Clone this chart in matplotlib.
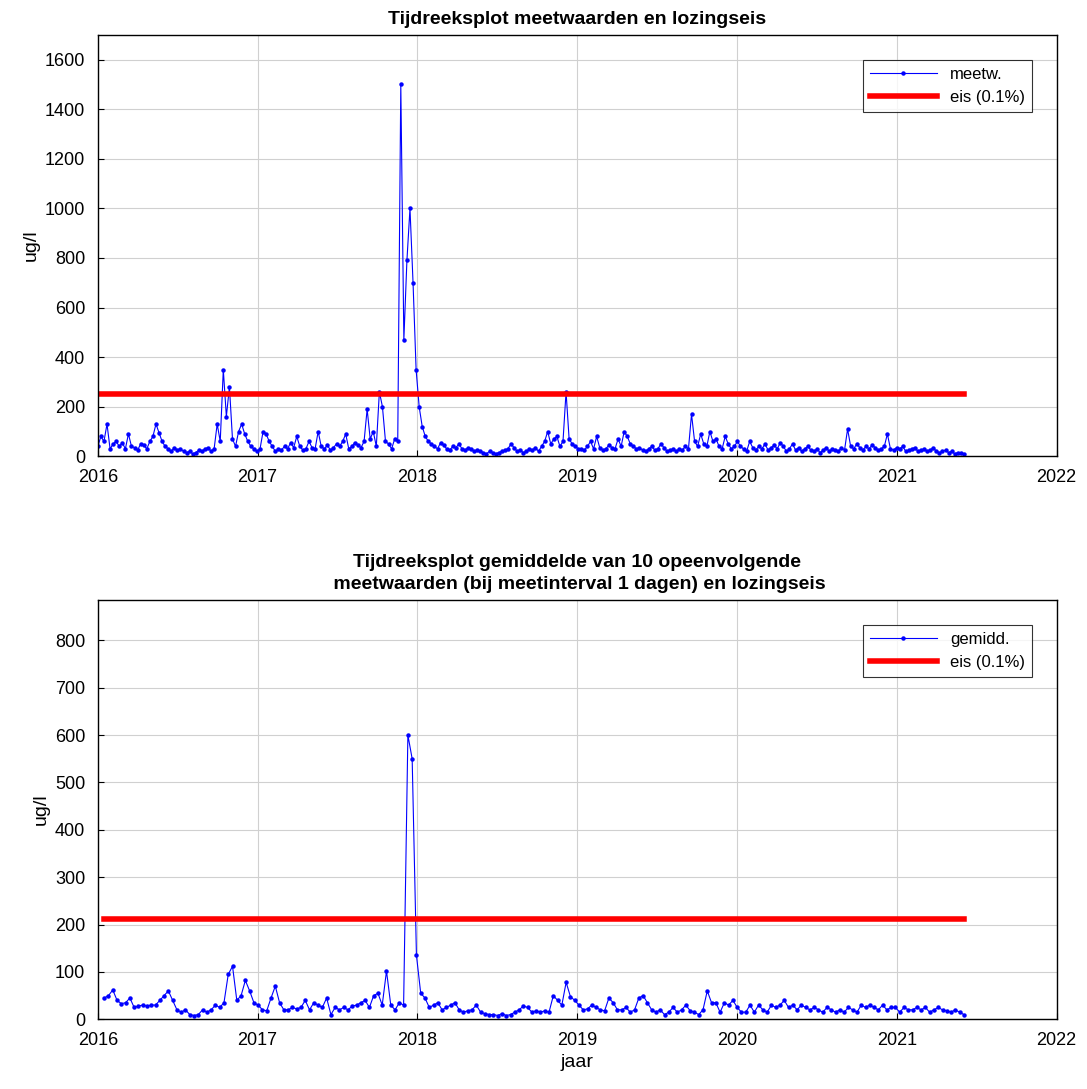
import numpy as np
import matplotlib
matplotlib.use('Agg')
import matplotlib.pyplot as plt

plt.rcParams['font.family'] = ['Liberation Sans', 'DejaVu Sans']

# weekly readings of the daily measurements (ug/l)
meetw = [40, 80, 60, 130, 30, 50, 60, 40, 55, 30, 90, 40, 35, 25, 50, 45, 30, 60, 80, 130, 95, 60, 40, 30, 20, 35, 25, 30, 20, 15, 20, 10,
         15, 25, 20, 30, 35, 20, 30, 130, 60, 350, 160, 280, 70, 40, 100, 130, 90, 60, 40, 30, 20,
         30, 100, 90, 60, 40, 20, 30, 25, 40, 30, 55, 35, 80, 40, 25, 30, 60, 35, 30, 100, 40, 30, 45, 25, 35, 50, 40, 60, 90, 30, 40, 55, 45, 35, 60, 190,
         70, 100, 40, 260, 200, 60, 50, 30, 70, 60,
         1500, 470, 790, 1000, 700, 350, 200,
         120, 80, 60, 50, 40, 30, 55, 45, 30, 25, 40, 35, 50, 30, 25, 35, 30, 20, 25, 20, 15, 10, 20, 15, 10, 15, 20, 25, 30, 50, 35, 20, 25, 15, 20, 30, 25, 35, 20, 40, 60, 100, 50, 70, 80, 40, 60,
         260, 70, 50, 40, 30,
         30, 25, 40, 60, 30, 80, 35, 25, 30, 45, 35, 30, 70, 40, 100, 80, 50, 40, 30, 35, 25, 20, 30, 40, 25, 30, 50, 35, 20, 25, 30, 20, 30, 25, 40, 30,
         170, 60, 40, 90, 50, 40, 100, 60, 70, 40, 30, 80, 50, 30, 40, 60,
         40, 30, 20, 60, 35, 25, 40, 30, 50, 25, 35, 45, 30, 55, 40, 20, 30, 50, 25, 35, 20, 30, 40, 25, 20, 30, 15, 25, 35, 20, 30, 25, 20, 35, 25, 110, 40, 30, 50, 35, 25, 40, 30, 45, 35, 25, 30, 40, 90, 30, 25, 35,
         30, 40, 20, 25, 30, 35, 20, 25, 30, 20, 25, 35, 20, 15, 20, 25, 15, 20, 10, 15, 12, 10]

# means of 10 consecutive measurements
gemidd = [45, 50, 62, 40, 33, 35, 45, 25, 28, 30, 28, 30, 30, 40, 50, 60, 40, 20, 15, 20, 10, 8, 10, 20, 15, 20, 30, 25, 35, 95, 112, 40, 50, 82, 60, 35, 30,
          20, 18, 45, 70, 35, 20, 20, 25, 22, 25, 40, 20, 35, 30, 25, 45, 10, 25, 20, 25, 20, 28, 30, 35, 40, 25, 50, 55, 30, 102, 30, 20, 35, 30, 600, 550, 135,
          55, 45, 25, 30, 35, 20, 25, 30, 35, 20, 15, 18, 20, 30, 15, 12, 10, 10, 8, 12, 8, 10, 15, 20, 28, 25, 15, 18, 15, 18, 15, 50, 40, 30, 78, 48, 40,
          30, 20, 22, 30, 25, 20, 18, 45, 35, 20, 20, 25, 15, 20, 45, 50, 35, 20, 15, 20, 10, 15, 25, 15, 20, 30, 18, 15, 10, 20, 60, 35, 35, 15, 35, 30, 40,
          25, 15, 15, 30, 15, 30, 20, 15, 30, 25, 30, 40, 25, 30, 20, 30, 25, 20, 25, 20, 15, 25, 20, 15, 20, 15, 25, 20, 15, 30, 25, 30, 25, 20, 30, 20, 25,
          25, 15, 25, 20, 20, 25, 20, 25, 15, 20, 25, 20, 18, 15, 20, 15, 10]

eis_top = 250
eis_bot = 212
years = [2016, 2017, 2018, 2019, 2020, 2021, 2022]

x_top = np.linspace(2016.0, 2021.42, len(meetw))
x_bot = np.linspace(2016.04, 2021.42, len(gemidd))

fig = plt.figure(figsize=(10.87, 10.89), dpi=100)
ax1 = fig.add_axes([0.090, 0.581, 0.882, 0.387])
ax2 = fig.add_axes([0.090, 0.064, 0.882, 0.385])

ax1.plot(x_top, meetw, '-', color='blue', lw=0.8, marker='o', ms=2.2, label='meetw.')
ax1.plot([2016.0, 2021.42], [eis_top, eis_top], color='red', lw=4, label='eis (0.1%)')
ax1.set_ylim(0, 1700)
ax1.set_yticks(range(0, 1601, 200))
ax1.set_ylabel('ug/l', fontsize=14)
ax1.set_title('Tijdreeksplot meetwaarden en lozingseis', fontsize=14, fontweight='bold', pad=8)

ax2.plot(x_bot, gemidd, '-', color='blue', lw=0.8, marker='o', ms=2.2, label='gemidd.')
ax2.plot([2016.04, 2021.42], [eis_bot, eis_bot], color='red', lw=4, label='eis (0.1%)')
ax2.set_ylim(0, 885)
ax2.set_yticks(range(0, 801, 100))
ax2.set_ylabel('ug/l', fontsize=14)
ax2.set_xlabel('jaar', fontsize=14)
ax2.set_title('Tijdreeksplot gemiddelde van 10 opeenvolgende\n meetwaarden (bij meetinterval 1 dagen) en lozingseis',
              fontsize=14, fontweight='bold', pad=8, linespacing=1.4)

for ax in (ax1, ax2):
    ax.set_xlim(2016, 2022)
    ax.set_xticks(years)
    ax.set_xticklabels([str(y) for y in years])
    ax.tick_params(labelsize=13, direction='in', length=4, pad=9)
    ax.grid(True, color='#d0d0d0', lw=0.8)
    ax.set_axisbelow(True)
    for s in ax.spines.values():
        s.set_linewidth(1.0)
    leg = ax.legend(loc='upper right', fontsize=12, fancybox=False, edgecolor='black',
                    borderaxespad=1.5, handlelength=4)
    leg.get_frame().set_linewidth(0.8)

fig.savefig('out.png', dpi=100)
